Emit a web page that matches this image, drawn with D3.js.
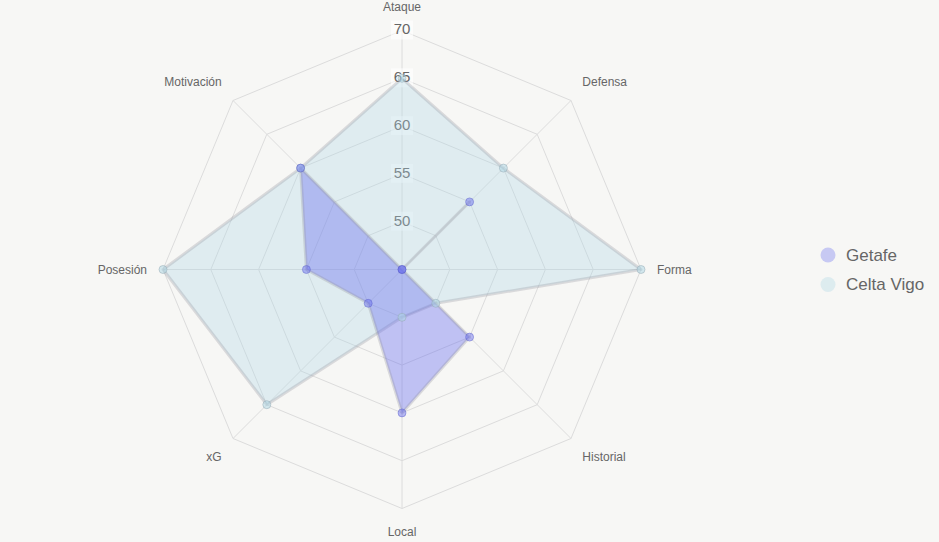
<!DOCTYPE html>
<html>
<head>
<meta charset="utf-8">
<script src="https://cdn.jsdelivr.net/npm/d3@7"></script>
<style>
  html, body { margin: 0; padding: 0; background: #f7f7f5; }
  svg { display: block; font-family: "Liberation Sans", Arial, sans-serif; }
</style>
</head>
<body>
<div id="chart"></div>
<script>
const axes = ['Ataque', 'Defensa', 'Forma', 'Historial', 'Local', 'xG', 'Posesión', 'Motivación'];
const getafe = [45, 55, 45, 55, 60, 50, 55, 60];
const celta = [65, 60, 70, 50, 50, 65, 70, 60];
const tickValues = [50, 55, 60, 65, 70];
const teams = ['Getafe', 'Celta Vigo'];

const width = 939, height = 542;
const cx = 402, cy = 269.5, radius = 239;

const series = [
  { name: teams[1], values: celta, fill: 'rgba(173,216,230,0.32)', point: 'rgba(173,216,230,0.5)', pointStroke: 'rgba(150,170,180,0.5)' },
  { name: teams[0], values: getafe, fill: 'rgba(100,105,240,0.38)', point: 'rgba(100,105,240,0.45)', pointStroke: 'rgba(90,95,200,0.45)' }
];

const svg = d3.select('#chart')
  .append('svg')
  .attr('width', width)
  .attr('height', height);

const r = d3.scaleLinear().domain([45, 70]).range([0, radius]);
const angle = d3.scalePoint().domain(axes).range([0, 2 * Math.PI * (axes.length - 1) / axes.length]);

const px = (a, v) => cx + r(v) * Math.sin(angle(a));
const py = (a, v) => cy - r(v) * Math.cos(angle(a));

const g = svg.append('g');

// grid rings
tickValues.forEach(t => {
  g.append('polygon')
    .attr('points', axes.map(a => `${px(a, t)},${py(a, t)}`).join(' '))
    .attr('fill', 'none')
    .attr('stroke', '#dcdcdc')
    .attr('stroke-width', 1);
});

// angle lines
axes.forEach(a => {
  g.append('line')
    .attr('x1', cx).attr('y1', cy)
    .attr('x2', px(a, 70)).attr('y2', py(a, 70))
    .attr('stroke', '#dcdcdc');
});

// tick labels with backdrop (under the datasets)
tickValues.forEach(t => {
  const y = cy - r(t);
  g.append('rect')
    .attr('x', cx - 11).attr('y', y - 10)
    .attr('width', 22).attr('height', 19)
    .attr('fill', 'rgba(255,255,255,0.6)');
  g.append('text')
    .attr('x', cx).attr('y', y)
    .attr('text-anchor', 'middle')
    .attr('dominant-baseline', 'middle')
    .attr('font-size', 15)
    .attr('fill', '#666')
    .text(t);
});

// datasets
const line = d3.lineRadial()
  .angle((d, i) => angle(axes[i]))
  .radius(d => r(d))
  .curve(d3.curveLinearClosed);

series.forEach(s => {
  g.append('path')
    .attr('transform', `translate(${cx},${cy})`)
    .attr('d', line(s.values))
    .attr('fill', s.fill)
    .attr('stroke', 'rgba(150,150,160,0.3)')
    .attr('stroke-width', 3)
    .attr('stroke-linejoin', 'round');
});

series.forEach(s => {
  g.selectAll(null)
    .data(s.values)
    .enter()
    .append('circle')
    .attr('cx', (d, i) => px(axes[i], d))
    .attr('cy', (d, i) => py(axes[i], d))
    .attr('r', 4)
    .attr('fill', s.point)
    .attr('stroke', s.pointStroke)
    .attr('stroke-width', 1);
});

// point labels
const labelR = radius + 16;
axes.forEach(a => {
  const th = angle(a);
  const sx = Math.sin(th), cz = Math.cos(th);
  const x = cx + labelR * sx, y = cy - labelR * cz;
  let anchor = 'middle';
  if (sx > 0.01) anchor = 'start';
  else if (sx < -0.01) anchor = 'end';
  let dy = '0.35em';
  if (cz > 0.01) dy = '-0.3em';
  else if (cz < -0.01) dy = '0.95em';
  g.append('text')
    .attr('x', x).attr('y', y)
    .attr('dy', dy)
    .attr('text-anchor', anchor)
    .attr('font-size', 12)
    .attr('fill', '#666')
    .text(a);
});

// legend
const legend = svg.append('g').attr('transform', 'translate(828,255)');
const legendColors = ['rgba(100,105,240,0.32)', 'rgba(173,216,230,0.35)'];
teams.forEach((t, i) => {
  legend.append('circle')
    .attr('cx', 0).attr('cy', i * 29.5)
    .attr('r', 7.5)
    .attr('fill', legendColors[i]);
  legend.append('text')
    .attr('x', 18).attr('y', i * 29.5)
    .attr('dy', '0.35em')
    .attr('font-size', 17)
    .attr('fill', '#666')
    .text(t);
});
</script>
</body>
</html>
